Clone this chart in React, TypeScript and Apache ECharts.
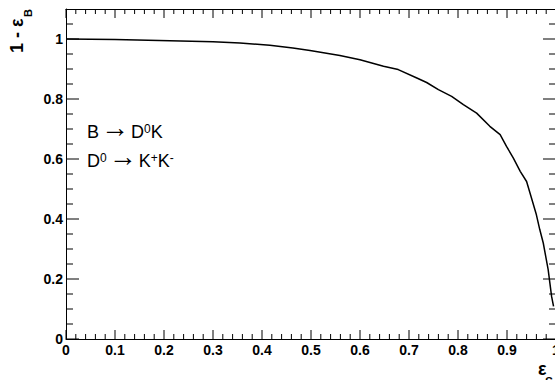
import React, { useEffect, useRef } from "react";
import * as echarts from "echarts";

const effS = [0, 0.05, 0.1, 0.19, 0.3, 0.355, 0.416, 0.463, 0.498, 0.559, 0.6, 0.648, 0.678, 0.716, 0.736, 0.76, 0.787, 0.811, 0.838, 0.865, 0.886, 0.899, 0.913, 0.927, 0.94, 0.951, 0.96, 0.967, 0.974, 0.984, 0.991, 0.995];
const oneMinusEffB = [1.0, 0.999, 0.998, 0.995, 0.991, 0.987, 0.979, 0.97, 0.962, 0.945, 0.931, 0.909, 0.898, 0.87, 0.855, 0.831, 0.809, 0.781, 0.753, 0.709, 0.681, 0.642, 0.603, 0.559, 0.525, 0.464, 0.414, 0.364, 0.32, 0.231, 0.142, 0.109];

// axis tick values (major and minor) for the ROOT-style frame
const xMajorTicks = [0, 0.1, 0.2, 0.3, 0.4, 0.5, 0.6, 0.7, 0.8, 0.9, 1.0];
const xMinorTicks = [0.02, 0.04, 0.06, 0.08, 0.12, 0.14, 0.16, 0.18, 0.22, 0.24, 0.26, 0.28, 0.32, 0.34, 0.36, 0.38, 0.42, 0.44, 0.46, 0.48, 0.52, 0.54, 0.56, 0.58, 0.62, 0.64, 0.66, 0.68, 0.72, 0.74, 0.76, 0.78, 0.82, 0.84, 0.86, 0.88, 0.92, 0.94, 0.96, 0.98];
const yMajorTicks = [0, 0.2, 0.4, 0.6, 0.8, 1.0];
const yMinorTicks = [0.05, 0.1, 0.15, 0.25, 0.3, 0.35, 0.45, 0.5, 0.55, 0.65, 0.7, 0.75, 0.85, 0.9, 0.95, 1.05];

const FONT = "'Liberation Sans', Arial, Helvetica, sans-serif";

export default function App() {
  const ref = useRef<HTMLDivElement>(null);
  useEffect(() => {
    if (!ref.current) return;
    const chart = echarts.init(ref.current, null, { renderer: "svg" });
    const black = "#000";
    const tl = { color: black, width: 1 };
    const labelStyle = { color: black, fontSize: 14, fontWeight: "bold" as const, fontFamily: FONT };
    const X_MIN = 0, X_MAX = 1, Y_MIN = 0, Y_MAX = 1.1;
    const xAxis = (pos: "bottom" | "top", showLabel: boolean) => ({
      type: "value" as const,
      position: pos,
      min: X_MIN,
      max: X_MAX,
      interval: 0.1,
      axisLine: { show: true, onZero: false, lineStyle: tl },
      axisTick: { show: false },
      axisLabel: { show: showLabel, margin: 4, ...labelStyle },
      splitLine: { show: false },
    });
    const yAxis = (pos: "left" | "right", showLabel: boolean) => ({
      type: "value" as const,
      position: pos,
      min: Y_MIN,
      max: Y_MAX,
      interval: 0.2,
      axisLine: { show: true, onZero: false, lineStyle: tl },
      axisTick: { show: false },
      axisLabel: {
        show: showLabel,
        margin: 3,
        ...labelStyle,
        formatter: (v: number) => (v > 1.05 ? "" : String(Math.round(v * 10) / 10)),
      },
      splitLine: { show: false },
    });
    const tickStyle = { stroke: black, lineWidth: 1 };
    const xTickData = [...xMajorTicks.map((v) => [v, 0]), ...xMinorTicks.map((v) => [v, 1])];
    const yTickData = [...yMajorTicks.map((v) => [0, v, 0]), ...yMinorTicks.map((v) => [0, v, 1])];
    const richText = {
      n: { fontSize: 18, fontFamily: FONT, color: black },
      a: { fontSize: 28, fontFamily: FONT, color: black, lineHeight: 10, padding: [0, 2, 8, 2] },
      s: { fontSize: 12, fontFamily: FONT, color: black, verticalAlign: "top" },
    };
    chart.setOption({
      animation: false,
      backgroundColor: "#fff",
      grid: { left: 66, top: 9, width: 490, height: 330, containLabel: false, outerBoundsMode: "none" },
      xAxis: [xAxis("bottom", true), xAxis("top", false)],
      yAxis: [yAxis("left", true), yAxis("right", false)],
      series: [
        {
          type: "line",
          xAxisIndex: 0,
          yAxisIndex: 0,
          data: effS.map((x, i) => [x, oneMinusEffB[i]]),
          showSymbol: false,
          symbol: "none",
          smooth: false,
          lineStyle: { color: black, width: 1.5 },
          z: 3,
        },
        {
          type: "custom",
          xAxisIndex: 0,
          yAxisIndex: 0,
          silent: true,
          clip: false,
          z: 4,
          data: xTickData,
          encode: { x: 0 },
          renderItem: (params: any, api: any) => {
            const v = api.value(0);
            const len = api.value(1) ? 5 : 9;
            const b = api.coord([v, Y_MIN]);
            const t = api.coord([v, Y_MAX]);
            return {
              type: "group",
              children: [
                { type: "line", shape: { x1: b[0], y1: b[1], x2: b[0], y2: b[1] - len }, style: tickStyle },
                { type: "line", shape: { x1: t[0], y1: t[1], x2: t[0], y2: t[1] + len }, style: tickStyle },
              ],
            };
          },
        },
        {
          type: "custom",
          xAxisIndex: 0,
          yAxisIndex: 0,
          silent: true,
          clip: false,
          z: 4,
          data: yTickData,
          encode: { y: 1 },
          renderItem: (params: any, api: any) => {
            const v = api.value(1);
            const len = api.value(2) ? 7 : 13;
            const l = api.coord([X_MIN, v]);
            const r = api.coord([X_MAX, v]);
            return {
              type: "group",
              children: [
                { type: "line", shape: { x1: l[0], y1: l[1], x2: l[0] + len, y2: l[1] }, style: tickStyle },
                { type: "line", shape: { x1: r[0], y1: r[1], x2: r[0] - len, y2: r[1] }, style: tickStyle },
              ],
            };
          },
        },
      ],
      graphic: [
        {
          type: "text",
          x: 17,
          y: 53,
          rotation: Math.PI / 2,
          style: { text: "1 - ε", fill: black, font: `bold 18px ${FONT}`, align: "left", verticalAlign: "middle" },
        },
        {
          type: "text",
          x: 28,
          y: 17,
          rotation: Math.PI / 2,
          style: { text: "B", fill: black, font: `bold 11px ${FONT}`, align: "left", verticalAlign: "middle" },
        },
        {
          type: "text",
          x: 538,
          y: 369,
          style: { text: "ε", fill: black, font: `bold 18px ${FONT}`, align: "left", verticalAlign: "middle" },
        },
        {
          type: "text",
          x: 545,
          y: 382,
          style: { text: "S", fill: black, font: `bold 12px ${FONT}`, align: "left", verticalAlign: "middle" },
        },
        {
          type: "text",
          x: 87,
          y: 131.5,
          style: { text: "{n|B}{a|→}{n|D}{s|0}{n|K}", verticalAlign: "middle", align: "left", rich: richText },
        },
        {
          type: "text",
          x: 87,
          y: 160.7,
          style: { text: "{n|D}{s|0}{a|→}{n|K}{s|+}{n|K}{s|-}", verticalAlign: "middle", align: "left", rich: richText },
        },
      ],
    });
    return () => chart.dispose();
  }, []);
  return (
    <div
      ref={ref}
      style={{ position: "absolute", left: 0, top: 0, width: 555, height: 380, background: "#fff" }}
    />
  );
}
